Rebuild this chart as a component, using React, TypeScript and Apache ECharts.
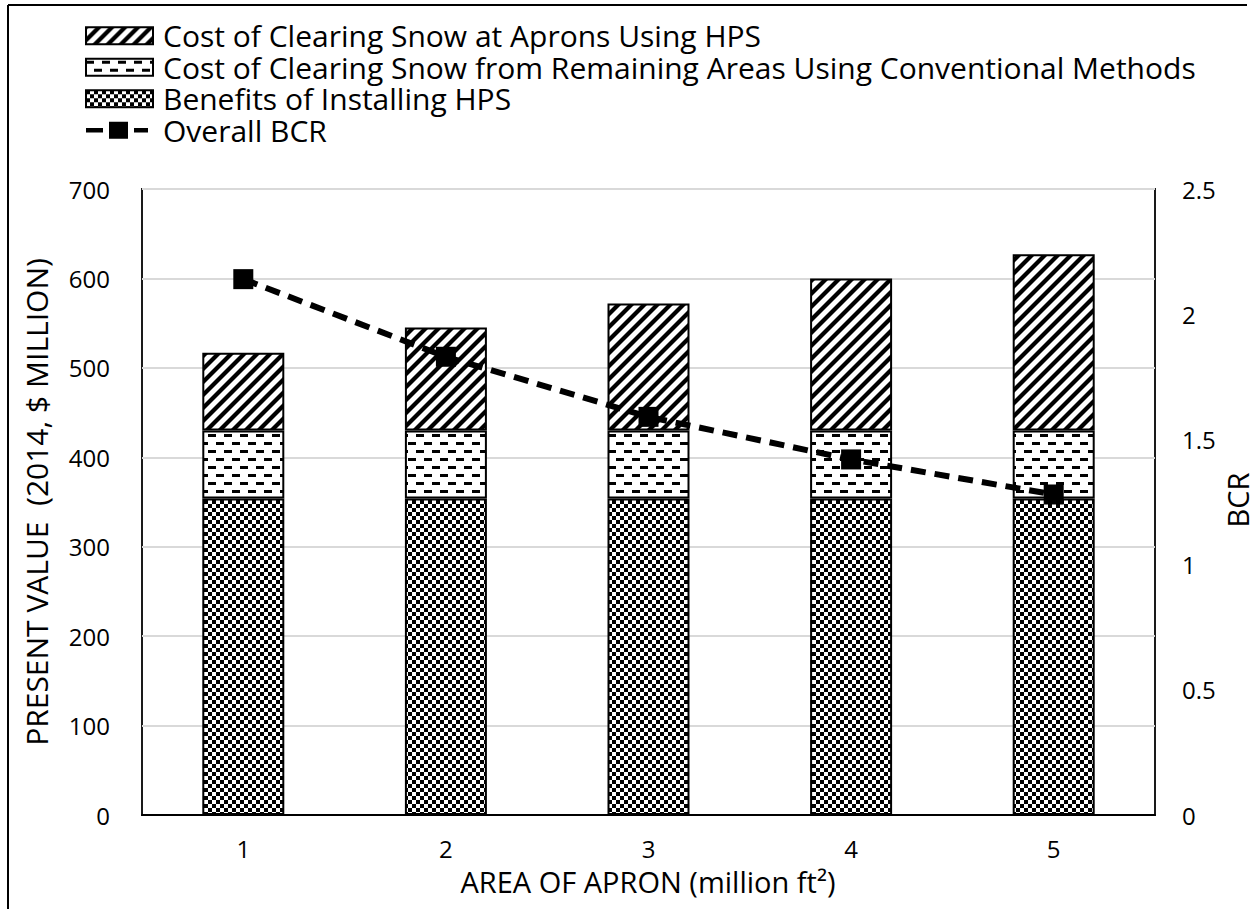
import React, { useEffect, useRef } from "react";
import * as echarts from "echarts";

// Apron area (million ft²)
const areas = ["1", "2", "3", "4", "5"];
// Present value (2014, $ million), stacked from the bottom up
const benefitsHPS = [354, 354, 354, 354, 354];
const conventionalCost = [76, 76, 76, 76, 76];
const apronHPSCost = [87, 115, 142, 170, 197];
// Benefit-cost ratio, right axis
const overallBCR = [2.14, 1.83, 1.59, 1.42, 1.28];

const SERIES_HPS = "Cost of Clearing Snow at Aprons Using HPS";
const SERIES_CONV = "Cost of Clearing Snow from Remaining Areas Using Conventional Methods";
const SERIES_BEN = "Benefits of Installing HPS";
const SERIES_BCR = "Overall BCR";

const FONT = "'Open Sans', 'Noto Sans', sans-serif";

// legend key for the BCR line: dash, square marker, dash
const BCR_ICON = "path://M0,6H17V11H0Z M23,-1H42V18H23Z M48,6H62V11H48Z M67,8.5L67,8.5Z";

function makeTile(size: number, draw: (ctx: CanvasRenderingContext2D, s: number) => void) {
  const c = document.createElement("canvas");
  c.width = size;
  c.height = size;
  const ctx = c.getContext("2d") as CanvasRenderingContext2D;
  ctx.fillStyle = "#fff";
  ctx.fillRect(0, 0, size, size);
  ctx.fillStyle = "#000";
  ctx.strokeStyle = "#000";
  draw(ctx, size);
  return { image: c, repeat: "repeat", imageWidth: size, imageHeight: size } as any;
}

export default function App() {
  const ref = useRef<HTMLDivElement>(null);

  useEffect(() => {
    if (!ref.current) return;
    const chart = echarts.init(ref.current, undefined, { renderer: "svg" });

    const stripes = makeTile(13, (ctx, t) => {
      ctx.lineWidth = 4.2;
      for (const c of [0, t, 2 * t]) {
        ctx.beginPath();
        ctx.moveTo(c + 2, -2);
        ctx.lineTo(c - t - 2, t + 2);
        ctx.stroke();
      }
    });
    const dashes = makeTile(16, (ctx) => {
      ctx.fillRect(0, 2, 8, 3);
      ctx.fillRect(8, 10, 8, 3);
    });
    const checker = makeTile(8, (ctx) => {
      ctx.fillRect(0, 0, 4, 4);
      ctx.fillRect(4, 4, 4, 4);
    });

    const barCommon = {
      type: "bar",
      stack: "pv",
      barWidth: 82,
      emphasis: { disabled: true },
    };

    const titleStyle = {
      fontFamily: FONT,
      fill: "#000",
      align: "center",
      verticalAlign: "middle",
    };

    chart.setOption({
      animation: false,
      backgroundColor: "#fff",
      textStyle: { fontFamily: FONT, color: "#000" },
      legend: {
        orient: "vertical",
        left: 80,
        top: 15,
        itemWidth: 67,
        itemHeight: 17,
        itemGap: 0,
        symbolKeepAspect: false,
        selectedMode: false,
        data: [
          { name: SERIES_HPS, icon: "rect" },
          { name: SERIES_CONV, icon: "rect" },
          { name: SERIES_BEN, icon: "rect" },
          {
            name: SERIES_BCR,
            icon: BCR_ICON,
            itemStyle: { color: "#000", borderWidth: 0 },
          },
        ],
        textStyle: { fontFamily: FONT, fontSize: 30, color: "#000", lineHeight: 31.5, padding: [0, 0, 0, 5] },
      },
      grid: {
        left: 142,
        right: 100,
        top: 189,
        bottom: 94,
        show: true,
        borderColor: "#1a1a1a",
        borderWidth: 2,
        backgroundColor: "transparent",
        containLabel: false,
      },
      xAxis: {
        type: "category",
        data: areas,
        axisTick: { show: false },
        axisLine: { lineStyle: { color: "#000", width: 2 } },
        axisLabel: { fontFamily: FONT, fontSize: 24, color: "#000", margin: 21 },
      },
      yAxis: [
        {
          type: "value",
          min: 0,
          max: 700,
          interval: 100,
          axisLine: { show: false },
          axisTick: { show: false },
          splitLine: { lineStyle: { color: "#d9d9d9", width: 2 } },
          axisLabel: { fontFamily: FONT, fontSize: 24, color: "#000", margin: 32 },
        },
        {
          type: "value",
          position: "right",
          min: 0,
          max: 2.5,
          interval: 0.5,
          axisLine: { show: false },
          axisTick: { show: false },
          splitLine: { show: false },
          axisLabel: { fontFamily: FONT, fontSize: 24, color: "#000", margin: 27 },
        },
      ],
      series: [
        {
          ...barCommon,
          name: SERIES_BEN,
          data: benefitsHPS,
          itemStyle: { color: checker, borderColor: "#000", borderWidth: 2 },
        },
        {
          ...barCommon,
          name: SERIES_CONV,
          data: conventionalCost,
          itemStyle: { color: dashes, borderColor: "#000", borderWidth: 2 },
        },
        {
          ...barCommon,
          name: SERIES_HPS,
          data: apronHPSCost,
          itemStyle: { color: stripes, borderColor: "#000", borderWidth: 2 },
        },
        {
          name: SERIES_BCR,
          type: "line",
          yAxisIndex: 1,
          data: overallBCR,
          symbol: "rect",
          symbolSize: 20,
          z: 5,
          emphasis: { disabled: true },
          lineStyle: { color: "#000", width: 6, type: [15, 9] },
          itemStyle: { color: "#000" },
        },
      ],
      graphic: [
        // outer chart frame (top and left edges)
        { type: "line", shape: { x1: 8, y1: 5, x2: 1247, y2: 5 }, style: { stroke: "#000", lineWidth: 2 } },
        { type: "line", shape: { x1: 8, y1: 5, x2: 8, y2: 909 }, style: { stroke: "#000", lineWidth: 2 } },
        {
          type: "text",
          x: 36,
          y: 502,
          rotation: Math.PI / 2,
          style: { ...titleStyle, text: "PRESENT VALUE  (2014, $ MILLION)", fontSize: 30, lineHeight: 30 },
        },
        {
          type: "text",
          x: 1237,
          y: 500,
          rotation: Math.PI / 2,
          style: { ...titleStyle, text: "BCR", fontSize: 29, lineHeight: 29 },
        },
        {
          type: "text",
          x: 648,
          y: 881,
          style: { ...titleStyle, text: "AREA OF APRON (million ft²)", fontSize: 29, lineHeight: 29 },
        },
      ],
    });

    return () => chart.dispose();
  }, []);

  return (
    <div
      ref={ref}
      style={{ position: "absolute", left: 0, top: 0, width: 1255, height: 909 }}
    />
  );
}
